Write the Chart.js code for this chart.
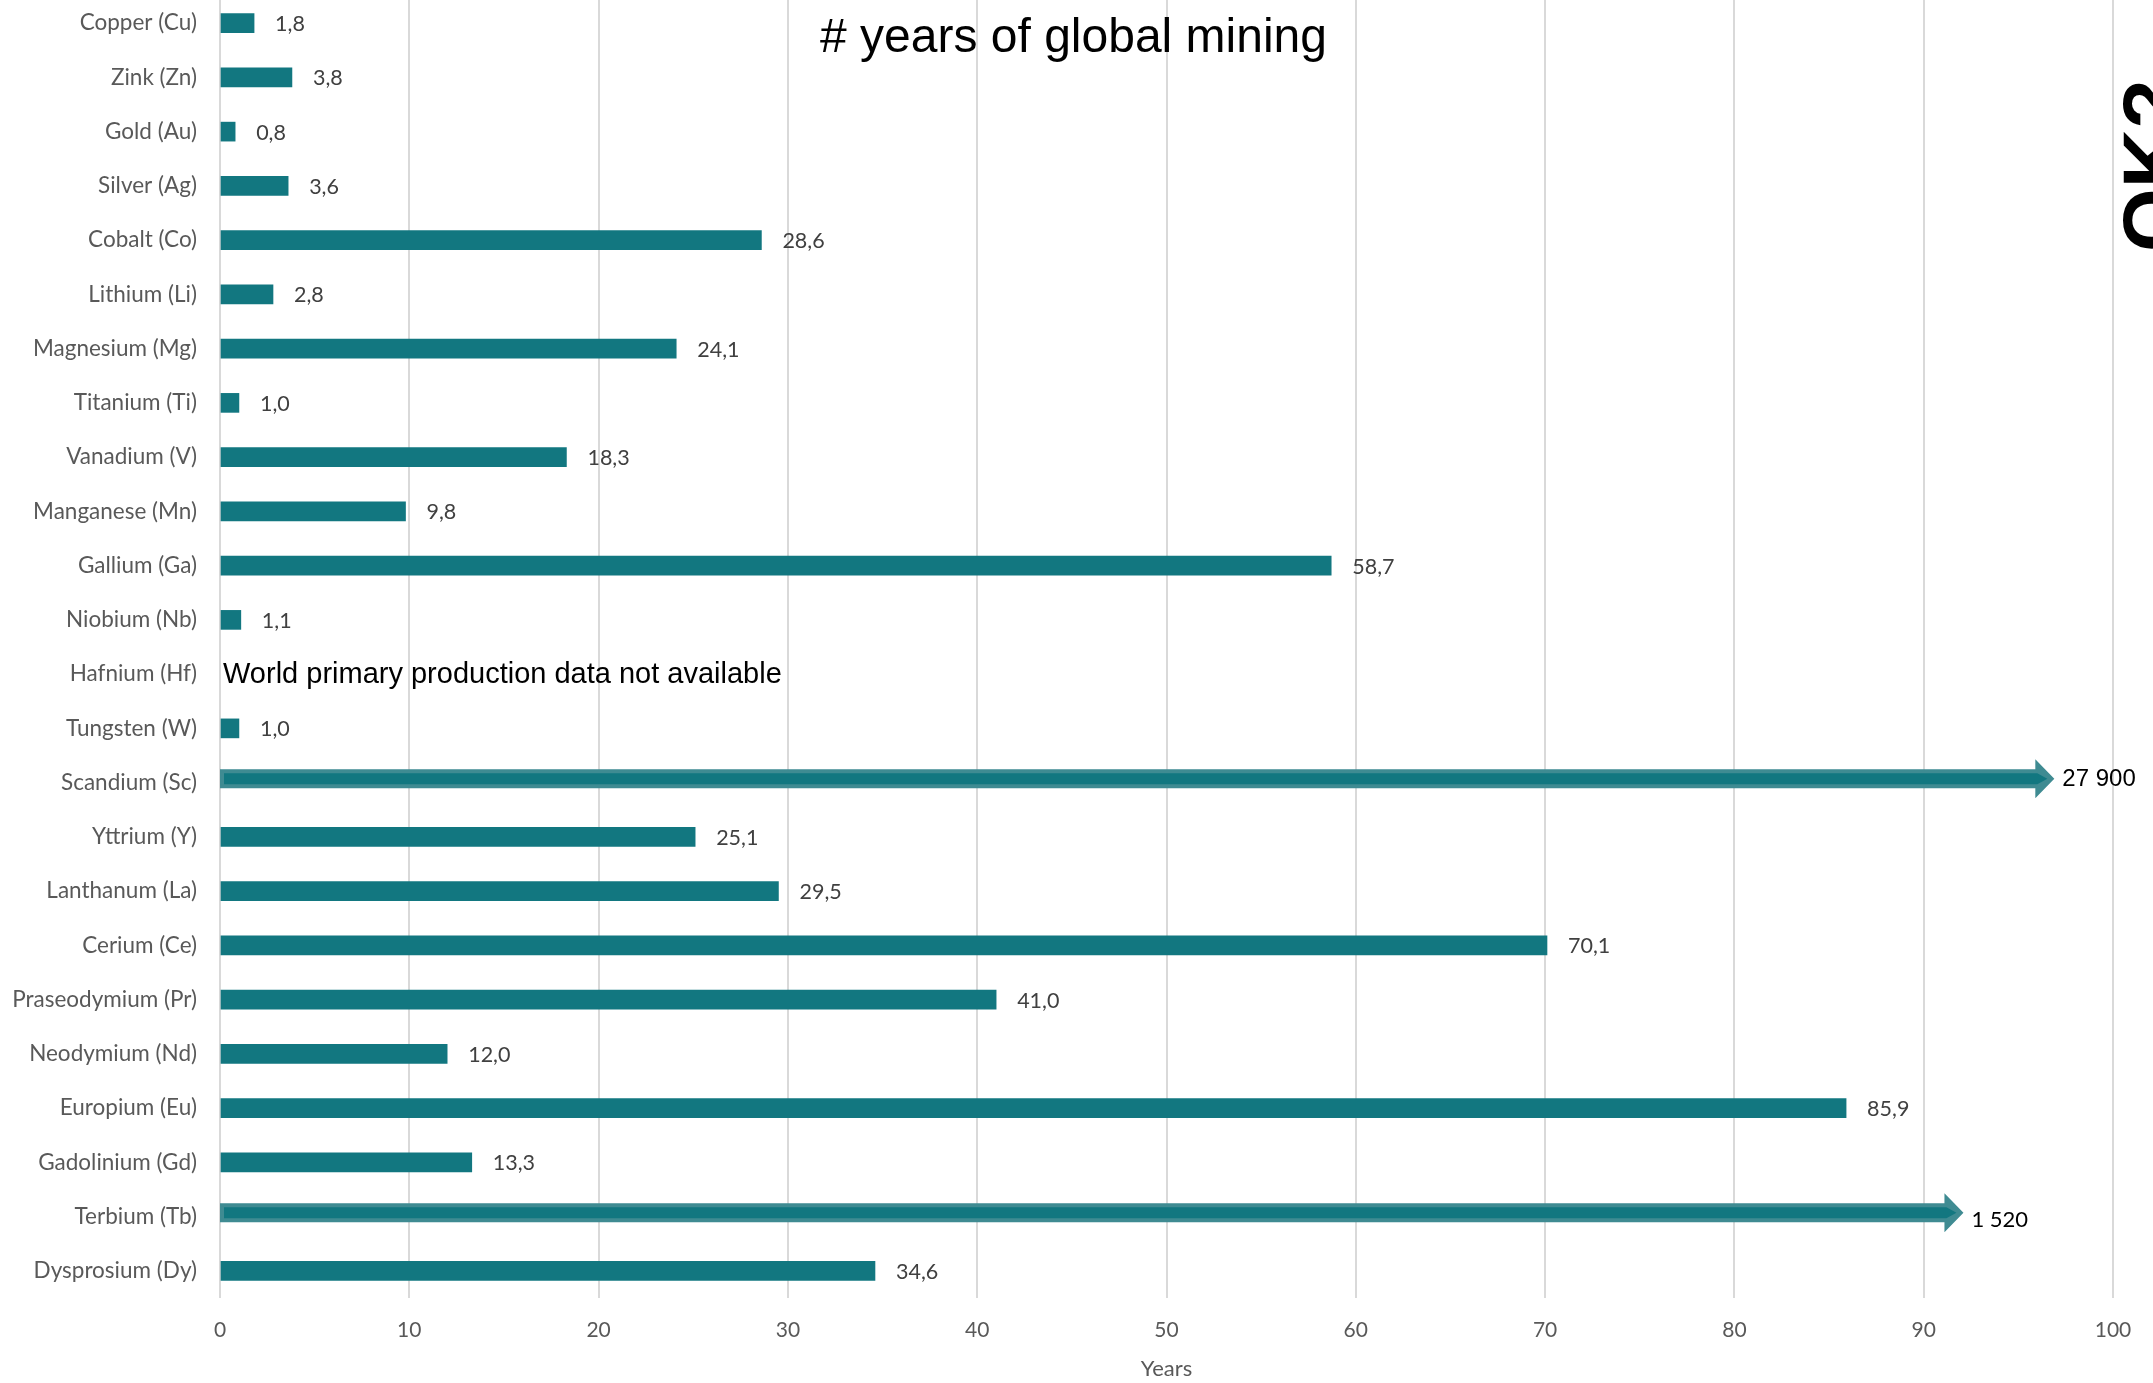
<!DOCTYPE html>
<html>
<head>
<meta charset="utf-8">
<script src="https://cdn.jsdelivr.net/npm/chart.js@4.4.1/dist/chart.umd.min.js"></script>
<style>
  html, body { margin: 0; padding: 0; background: #ffffff; }
  #wrap { width: 2153px; height: 1383px; position: relative; overflow: hidden; }
  #c { position: absolute; left: 0; top: -4px; }
</style>
</head>
<body>
<div id="wrap"><canvas id="c" width="2153" height="1387"></canvas></div>
<script>
// ---- data ----
const categories = [
  'Copper (Cu)', 'Zink (Zn)', 'Gold (Au)', 'Silver (Ag)', 'Cobalt (Co)', 'Lithium (Li)',
  'Magnesium (Mg)', 'Titanium (Ti)', 'Vanadium (V)', 'Manganese (Mn)', 'Gallium (Ga)',
  'Niobium (Nb)', 'Hafnium (Hf)', 'Tungsten (W)', 'Scandium (Sc)', 'Yttrium (Y)',
  'Lanthanum (La)', 'Cerium (Ce)', 'Praseodymium (Pr)', 'Neodymium (Nd)', 'Europium (Eu)',
  'Gadolinium (Gd)', 'Terbium (Tb)', 'Dysprosium (Dy)'
];
const yearsOfMining = [
  1.8, 3.8, 0.8, 3.6, 28.6, 2.8,
  24.1, 1.0, 18.3, 9.8, 58.7,
  1.1, null, 1.0, 27900, 25.1,
  29.5, 70.1, 41.0, 12.0, 85.9,
  13.3, 1520, 34.6
];
// off-scale values shown as arrows: category and where the arrow tip ends (axis units)
const arrowCategories = ['Scandium (Sc)', 'Terbium (Tb)'];
const arrowTips = [96.9, 92.1];
const noDataCategory = 'Hafnium (Hf)';
const noDataText = 'World primary production data not available';
const titleText = '# years of global mining';
const axisTitle = 'Years';
const xTicks = [0, 10, 20, 30, 40, 50, 60, 70, 80, 90, 100];

const AXIS_MAX = 100;
const barData = yearsOfMining.map(v => (v !== null && v <= AXIS_MAX) ? v : null);

const BAR = '#127780';
const BAR_LIGHT = '#3f8b92';
const SHIFT = 4; // canvas is offset 4px upward

function fmtDec(v) { return v.toFixed(1).replace('.', ','); }
function fmtThousands(v) { return String(Math.round(v)).replace(/\B(?=(\d{3})+(?!\d))/g, ' '); }

const overlay = {
  id: 'overlay',
  afterDatasetsDraw(chart) {
    const ctx = chart.ctx;
    const xs = chart.scales.x, ys = chart.scales.y;
    ctx.save();
    // value labels
    ctx.font = '21.5px Lato';
    ctx.fillStyle = '#404040';
    ctx.textBaseline = 'middle';
    ctx.textAlign = 'left';
    barData.forEach((v, i) => {
      if (v === null) return;
      const x = xs.getPixelForValue(v);
      const y = ys.getPixelForValue(i);
      ctx.fillText(fmtDec(v), x + 21, y + 1);
    });
    // arrows for off-scale values
    arrowCategories.forEach((cat, k) => {
      const i = categories.indexOf(cat);
      const cy = ys.getPixelForValue(i) - 4;
      const x0 = xs.getPixelForValue(0);
      const tip = xs.getPixelForValue(arrowTips[k]);
      const headLen = 19, half = 9.5, headHalf = 19.5;
      const hb = tip - headLen;
      ctx.beginPath();
      ctx.moveTo(x0, cy - half);
      ctx.lineTo(hb, cy - half);
      ctx.lineTo(hb, cy - headHalf);
      ctx.lineTo(tip, cy);
      ctx.lineTo(hb, cy + headHalf);
      ctx.lineTo(hb, cy + half);
      ctx.lineTo(x0, cy + half);
      ctx.closePath();
      ctx.fillStyle = BAR_LIGHT;
      ctx.fill();
      // darker inner core
      ctx.beginPath();
      ctx.moveTo(x0 + 4, cy - half + 4);
      ctx.lineTo(hb + 2, cy - half + 4);
      ctx.lineTo(tip - 7, cy);
      ctx.lineTo(hb + 2, cy + half - 4);
      ctx.lineTo(x0 + 4, cy + half - 4);
      ctx.closePath();
      ctx.fillStyle = BAR;
      ctx.fill();
      const val = yearsOfMining[i];
      ctx.fillStyle = '#000000';
      ctx.textBaseline = 'middle';
      if (k === 0) {
        ctx.font = '24px "Liberation Sans", Arial';
        ctx.fillText(fmtThousands(val), tip + 8, cy + 1);
      } else {
        ctx.font = '22px Lato';
        ctx.fillText(fmtThousands(val), tip + 8, cy + 7);
      }
    });
    // no data note
    const hi = categories.indexOf(noDataCategory);
    ctx.font = '29px "Liberation Sans", Arial';
    ctx.fillStyle = '#000000';
    ctx.textBaseline = 'middle';
    ctx.fillText(noDataText, xs.getPixelForValue(0) + 3, ys.getPixelForValue(hi) + 1);
    // title
    ctx.font = '48px "Liberation Sans", Arial';
    ctx.textAlign = 'center';
    ctx.textBaseline = 'alphabetic';
    ctx.fillText(titleText, chart.width / 2 - 3, 52 + SHIFT);
    // clipped rotated mark at right edge
    ctx.save();
    ctx.translate(2180, 252 + SHIFT);
    ctx.rotate(-Math.PI / 2);
    ctx.font = 'bold 82px "Liberation Sans", Arial';
    ctx.textAlign = 'left';
    ctx.textBaseline = 'alphabetic';
    ctx.fillText('OK?', 0, 0);
    ctx.restore();
    ctx.restore();
  }
};

new Chart(document.getElementById('c'), {
  type: 'bar',
  data: {
    labels: categories,
    datasets: [{
      data: barData,
      backgroundColor: BAR,
      borderWidth: 0,
      barThickness: 19
    }]
  },
  options: {
    indexAxis: 'y',
    responsive: false,
    animation: false,
    devicePixelRatio: 1,
    layout: { padding: { top: 0, right: 40, bottom: 0, left: 0 } },
    plugins: {
      legend: { display: false },
      title: { display: false },
      tooltip: { enabled: false }
    },
    scales: {
      x: {
        type: 'linear',
        min: 0,
        max: AXIS_MAX,
        afterBuildTicks(scale) { scale.ticks = xTicks.map(v => ({ value: v })); },
        afterFit(scale) { scale.height = 85; scale.paddingLeft = 0; scale.paddingRight = 0; },
        grid: { color: '#d9d9d9', lineWidth: 2, drawTicks: false },
        border: { display: false },
        ticks: { padding: 20, color: '#595959', font: { family: 'Lato', size: 21 } },
        title: {
          display: true,
          text: axisTitle,
          color: '#595959',
          font: { family: 'Lato', size: 22 },
          padding: { top: 0, bottom: 1 }
        }
      },
      y: {
        afterFit(scale) { scale.width = 220; scale.paddingTop = 0; scale.paddingBottom = 0; },
        grid: { display: false, drawTicks: false },
        border: { display: false },
        ticks: { padding: 23, color: '#595959', font: { family: 'Lato', size: 22.5 } }
      }
    }
  },
  plugins: [overlay]
});
</script>
</body>
</html>
